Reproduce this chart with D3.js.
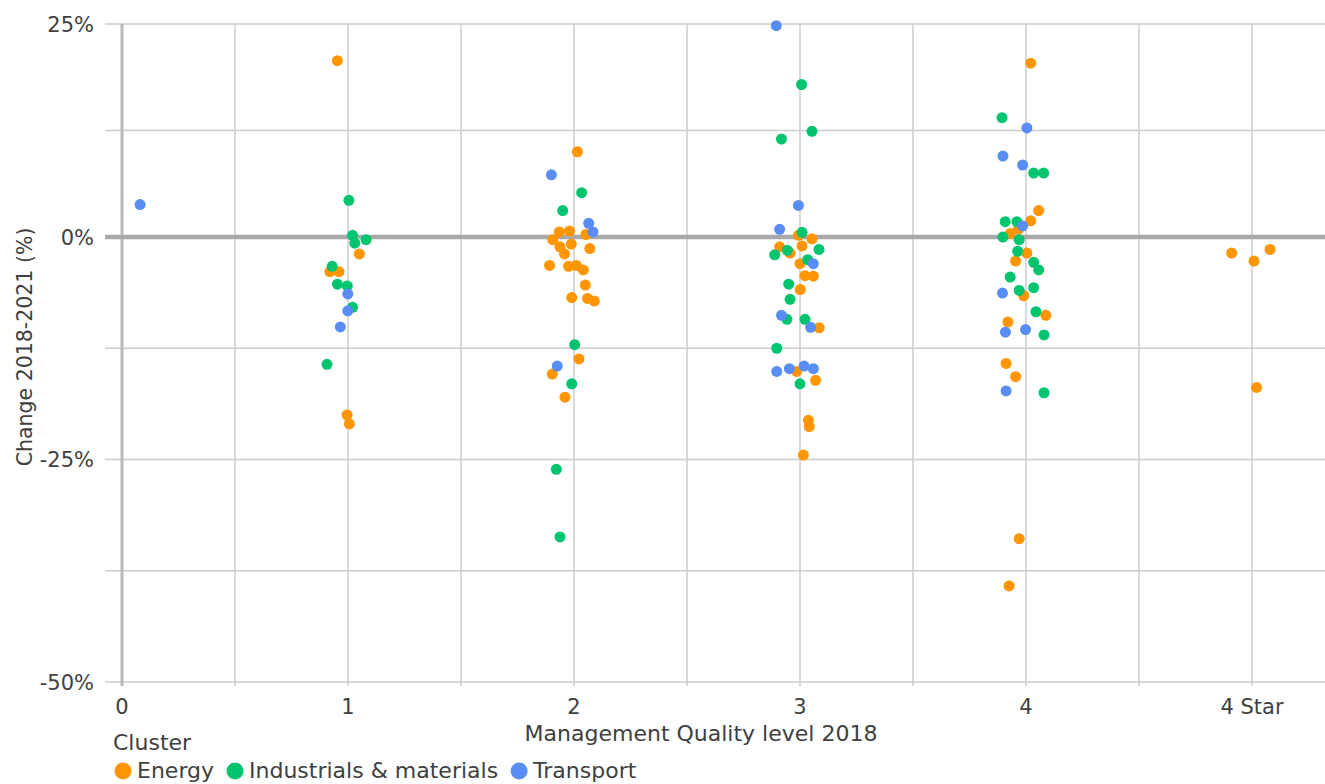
<!DOCTYPE html>
<html>
<head>
<meta charset="utf-8">
<script src="https://cdn.jsdelivr.net/npm/d3@7"></script>
<style>
  html, body { margin: 0; padding: 0; background: #fff; }
  svg { display: block; font-family: "DejaVu Sans", sans-serif; }
</style>
</head>
<body>
<svg id="chart" width="1325" height="784"></svg>
<script>
// ---- Data (x = management quality level incl. jitter, y = change 2018-2021 in %) ----
const clusters = ["Energy", "Industrials & materials", "Transport"];
const clusterColors = ["#FF9500", "#00C46E", "#5A8DF3"];

const xTickValues = [0, 1, 2, 3, 4, 5];
const xTickLabels = ["0", "1", "2", "3", "4", "4 Star"];
const yTickValues = [25, 0, -25, -50];
const yGridValues = [25, 12.5, 0, -12.5, -25, -37.5, -50];

const energyX = [0.953, 1.05, 0.92, 0.96, 0.996, 1.006,
  2.015, 1.935, 1.98, 2.053, 1.906, 1.938, 1.988, 2.07, 1.958, 1.892, 1.976, 2.01, 2.041, 2.05, 1.99, 2.06, 2.09, 2.022, 1.904, 1.96,
  2.993, 3.053, 2.91, 3.009, 2.956, 3.0, 3.022, 3.059, 3.001, 3.085, 2.985, 3.069, 3.037, 3.041, 3.015,
  4.021, 4.056, 4.021, 3.966, 3.93, 4.004, 3.954, 3.99, 4.088, 3.92, 3.912, 3.954, 3.97, 3.925,
  4.91, 5.009, 5.08, 5.02];
const energyY = [20.7, -1.9, -3.9, -3.9, -20.0, -21.0,
  10.0, 0.6, 0.7, 0.3, -0.3, -1.1, -0.8, -1.3, -1.9, -3.2, -3.3, -3.2, -3.7, -5.4, -6.8, -6.9, -7.2, -13.7, -15.4, -18.0,
  0.2, -0.2, -1.1, -1.0, -1.8, -3.0, -4.35, -4.4, -5.9, -10.2, -15.1, -16.1, -20.6, -21.3, -24.5,
  20.4, 3.1, 1.9, 0.9, 0.4, -1.8, -2.7, -6.6, -8.8, -9.55, -14.2, -15.7, -33.9, -39.2,
  -1.8, -2.7, -1.4, -16.9];

const industrialsX = [1.004, 1.02, 1.03, 1.08, 0.93, 0.953, 0.997, 1.02, 0.907,
  2.034, 1.95, 2.003, 1.99, 1.922, 1.938,
  3.007, 2.918, 3.053, 3.009, 3.084, 2.944, 2.888, 3.034, 2.95, 2.956, 2.942, 3.022, 2.897, 3.0,
  3.894, 4.034, 4.078, 3.908, 3.96, 3.898, 3.97, 3.963, 4.034, 4.056, 3.93, 3.97, 4.034, 4.044, 4.08, 4.08];
const industrialsY = [4.3, 0.2, -0.7, -0.3, -3.3, -5.3, -5.5, -7.9, -14.3,
  5.2, 3.1, -12.1, -16.5, -26.1, -33.7,
  17.9, 11.5, 12.4, 0.55, -1.4, -1.5, -2.0, -2.55, -5.3, -7.0, -9.25, -9.25, -12.5, -16.5,
  14.0, 7.5, 7.5, 1.8, 1.8, 0.0, -0.3, -1.6, -2.85, -3.7, -4.5, -6.0, -5.7, -8.4, -11.0, -17.5];

const transportX = [0.08, 0.999, 0.999, 0.966,
  1.90, 2.065, 2.084, 1.926,
  2.895, 2.993, 2.91, 3.059, 2.918, 3.047, 2.897, 2.953, 3.018, 3.059,
  4.004, 3.898, 3.985, 3.985, 3.896, 3.909, 3.998, 3.912];
const transportY = [3.8, -6.4, -8.3, -10.1,
  7.3, 1.6, 0.6, -14.5,
  24.8, 3.7, 0.9, -3.0, -8.8, -10.15, -15.1, -14.8, -14.5, -14.8,
  12.8, 9.5, 8.45, 1.3, -6.3, -10.7, -10.4, -17.3];

const seriesX = [energyX, industrialsX, transportX];
const seriesY = [energyY, industrialsY, transportY];

// ---- Layout ----
const svg = d3.select("#chart");
const x = d3.scaleLinear().domain([0, 5]).range([122, 1252]);
const y = d3.scaleLinear().domain([-50, 0, 25]).range([682, 237, 24]);
const plotRight = 1325;
const textColor = "#404040";

// horizontal grid lines
svg.append("g").selectAll("line").data(yGridValues.filter(d => d !== 0)).join("line")
  .attr("x1", 105).attr("x2", plotRight)
  .attr("y1", d => y(d)).attr("y2", d => y(d))
  .attr("stroke", "#cccccc").attr("stroke-width", 1.5);

// vertical grid lines (every 0.5)
const xGrid = d3.range(0.5, 5.01, 0.5);
svg.append("g").selectAll("line").data(xGrid).join("line")
  .attr("x1", d => x(d)).attr("x2", d => x(d))
  .attr("y1", y(25)).attr("y2", 686)
  .attr("stroke", "#cccccc").attr("stroke-width", 1.5);

// y axis line at x = 0
svg.append("line")
  .attr("x1", x(0)).attr("x2", x(0))
  .attr("y1", y(25)).attr("y2", 686)
  .attr("stroke", "#b8b8b8").attr("stroke-width", 3);

// zero line
svg.append("line")
  .attr("x1", 105).attr("x2", plotRight)
  .attr("y1", y(0)).attr("y2", y(0))
  .attr("stroke", "#a9a9ab").attr("stroke-width", 4.5);

// y tick labels
svg.append("g").selectAll("text").data(yTickValues).join("text")
  .attr("x", 94).attr("y", d => y(d))
  .attr("dy", "0.36em")
  .attr("text-anchor", "end")
  .attr("font-size", 21).attr("fill", textColor)
  .text(d => d + "%");

// x tick labels
svg.append("g").selectAll("text").data(xTickValues).join("text")
  .attr("x", d => x(d)).attr("y", 714)
  .attr("text-anchor", "middle")
  .attr("font-size", 21).attr("fill", textColor)
  .text((d, i) => xTickLabels[i]);

// axis titles
svg.append("text")
  .attr("x", 701).attr("y", 741)
  .attr("text-anchor", "middle")
  .attr("font-size", 22).attr("fill", textColor)
  .text("Management Quality level 2018");

svg.append("text")
  .attr("transform", "translate(32,347) rotate(-90)")
  .attr("text-anchor", "middle")
  .attr("font-size", 20.5).attr("fill", textColor)
  .text("Change 2018-2021 (%)");

// points
clusters.forEach((c, i) => {
  const pts = seriesX[i].map((vx, j) => [vx, seriesY[i][j]]);
  svg.append("g").selectAll("circle").data(pts).join("circle")
    .attr("cx", d => x(d[0])).attr("cy", d => y(d[1]))
    .attr("r", 5.5)
    .attr("fill", clusterColors[i]);
});

// legend
svg.append("text")
  .attr("x", 113).attr("y", 750)
  .attr("font-size", 22).attr("fill", textColor)
  .text("Cluster");

const legend = svg.append("g");
let lx = 123;
clusters.forEach((c, i) => {
  legend.append("circle").attr("cx", lx).attr("cy", 771).attr("r", 8.5).attr("fill", clusterColors[i]);
  const t = legend.append("text")
    .attr("x", lx + 14).attr("y", 778)
    .attr("font-size", 22).attr("fill", textColor)
    .text(c);
  lx += 14 + t.node().getComputedTextLength() + 21;
});
</script>
</body>
</html>
